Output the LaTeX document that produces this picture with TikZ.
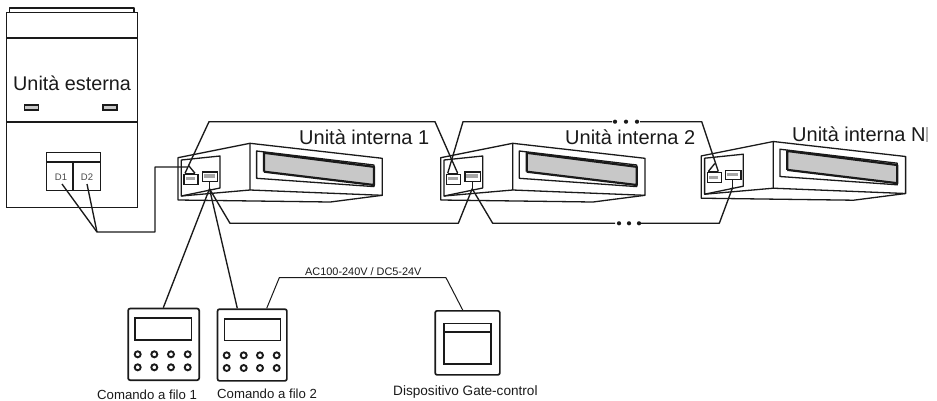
\documentclass[tikz,border=0pt]{standalone}
\usepackage{fontspec}
\usetikzlibrary{calc}
\setmainfont{Liberation Sans}
\definecolor{ink}{HTML}{1A1A1A}
\definecolor{win}{HTML}{C8C8C8}
\tikzset{
  wire/.style={draw=ink,line width=1.35pt,line join=round},
  thin part/.style={draw=ink,line width=1.3pt,line join=round},
  heavy part/.style={draw=ink,line width=2.2pt,line join=round},
  lbl/.style={inner sep=0pt,anchor=base west,text=ink},
  big/.style={lbl,font=\fontsize{19.8}{20}\selectfont},
  small/.style={lbl,font=\fontsize{13.2}{14}\selectfont},
  tiny/.style={lbl,font=\fontsize{10.9}{12}\selectfont},
  plate/.style={draw=ink,line width=1.7pt,rounded corners=2pt,inner sep=0pt,anchor=north west},
  term/.style={draw=ink,fill=white,line width=1.2pt,minimum width=14pt,minimum height=9.5pt,inner sep=0pt,anchor=north west},
  btn/.style={draw=ink,line width=1.9pt,circle,minimum size=6pt,inner sep=0pt},
  duct/.pic={
    \path[thin part] (-72,14.4) -- (0,0) -- (132.3,15) -- (132.3,52) -- (80.3,58.7) -- (-72,56.7) -- cycle;
    \draw[thin part] (0,0) -- (0,46.7) -- (132.3,52);
    \draw[thin part] (-68.7,52.7) -- (0,46.7);
    \draw[thin part] (-68.7,16.7) -- (-30,12.7) -- (-30,44.7) -- (-68.7,52.7) -- cycle;
    \draw[thin part] (6.6,7.7) -- (124,21.7) -- (124,43.3) -- (6.6,35) -- cycle;
    \fill[win] (14,9.5) -- (124,23.5) -- (124,41.7) -- (14,28.4) -- cycle;
    \draw[heavy part] (14,28.4) -- (14,9.5) -- (124,23.5) -- (124,41.7) -- (14,28.4);
    \node[term] (-ta) at (-66.7,30.7) {};
    \node[term,minimum width=15.5pt] (-tb) at (-48.4,28) {};
    \fill[gray!70] (-64.5,34) rectangle (-55,37);
    \fill[gray!70] (-46.5,31) rectangle (-35,34.5);
    \coordinate (-tl) at (-65,30);
    \coordinate (-tr) at (-55,30);
    \coordinate (-j) at (-40.5,45.5);
    \draw[thin part] (-tl) -- (-tr);
    \draw[thin part] (-40.5,37.7) -- (-j);
  }
}
\begin{document}
\begin{tikzpicture}[x=1pt,y=-1pt]
\useasboundingbox (0,0) rectangle (937,400);
% outdoor unit
\draw[thin part] (9.5,12) -- (9.5,8) -- (134,8) -- (134,12);
\node[draw=ink,line width=1.4pt,minimum width=130.5pt,minimum height=195pt,inner sep=0pt,anchor=north west] (odu) at (6,12) {};
\draw[thin part] (odu.west |- 0,38) -- (odu.east |- 0,38);
\draw[draw=ink,line width=2.3pt] (odu.west |- 0,122) -- (odu.east |- 0,122);
\node[big] (odulbl) at (13,90) {Unità esterna};
\node[draw=ink,fill=win,line width=1.2pt,minimum width=14pt,minimum height=5pt,inner sep=0pt] (l1) at (31.5,107.5) {};
\node[draw=ink,fill=win,line width=1.2pt,minimum width=14pt,minimum height=5pt,inner sep=0pt] (l2) at (110,107.5) {};
\node[draw=ink,line width=1.3pt,minimum width=54pt,minimum height=38pt,inner sep=0pt,anchor=north west] (tb) at (46,152) {};
\draw[thin part] (46,162) -- (100,162);
\draw[thin part] (73,162) -- (73,190);
\node[font=\fontsize{9.5}{10}\selectfont,text=ink!80,inner sep=0pt] (d1) at (61,177) {D1};
\node[font=\fontsize{9.5}{10}\selectfont,text=ink!80,inner sep=0pt] (d2) at (87,177) {D2};
% indoor units
\pic (u1) at (250,143.3) {duct};
\pic (u2) at (512.7,143.3) {duct};
\pic (uN) at (773.3,141.5) {duct};
\node[big,font=\fontsize{20}{20}\selectfont] (u1lbl) at (299,144) {Unità interna 1};
\node[big,font=\fontsize{20}{20}\selectfont] (u2lbl) at (565,144) {Unità interna 2};
\node[big,font=\fontsize{20}{20}\selectfont] (uNlbl) at (792,141.7) {Unità interna N};
\fill[gray!60] (926,127) rectangle (927.5,142);
% bus named points
\coordinate (e1) at (97,232);
\coordinate (e2) at (155,232);
\coordinate (e3) at (155,167);
\coordinate (e4) at (187.5,167);
\coordinate (t1) at (209,121.7);
\coordinate (t2) at (435,121.7);
\coordinate (t3) at (463,121.7);
\coordinate (t4) at (612,121.7);
\coordinate (t5) at (640,121.7);
\coordinate (t6) at (701.7,121.7);
\coordinate (b1) at (230,223.3);
\coordinate (b2) at (458.3,223.3);
\coordinate (b3) at (492.7,223.3);
\coordinate (b4) at (615,223.3);
\coordinate (b5) at (640,223.3);
\coordinate (b6) at (719.3,223.3);
\coordinate (d1w) at (62,184);
\coordinate (d2w) at (87,184);
\draw[wire] (d1w) -- (e1);
\draw[wire] (d2w) -- (e1) -- (e2) -- (e3) -- (e4);
\draw[wire] (u1-tl) -- (t1) -- (t2) -- (u2-tr);
\draw[wire] (u2-tl) -- (t3) -- (t4);
\draw[wire] (t5) -- (t6) -- (uN-tr);
\draw[wire] (u1-tr) -- ($(u1-tl)!0.15!(t1)$);
\draw[wire] (u1-j) -- (b1) -- (b2) -- (u2-j) -- (b3) -- (b4);
\draw[wire] (b5) -- (b6) -- (uN-j);
\draw[wire] (uN-tl) -- ++(6.5,-8);
\foreach \n/\x/\y in {p1/615/121.7,p2/626/121.7,p3/637/121.7,q1/619/223.3,q2/629/223.3,q3/639/223.3}
  \node[fill=ink,circle,inner sep=0pt,minimum size=4.2pt] (\n) at (\x,\y) {};
% controllers
\node[plate,minimum width=71pt,minimum height=71.6pt] (c1) at (127.3,307.7) {};
\node[draw=ink,line width=1.6pt,minimum width=56.4pt,minimum height=22pt,inner sep=0pt,anchor=north west] (s1) at (134.3,317.3) {};
\foreach \x in {137.7,154.3,171,187.7} \foreach \y in {354.3,367.3}
  \node[btn] at (\x,\y) {};
\node[plate,minimum width=69.3pt,minimum height=71.7pt] (c2) at (216.7,308.3) {};
\node[draw=ink,line width=1.3pt,minimum width=56pt,minimum height=21.7pt,inner sep=0pt,anchor=north west] (s2) at (224,318.3) {};
\foreach \x in {226.7,243.7,260,276.7} \foreach \y in {355.3,368}
  \node[btn] at (\x,\y) {};
\node[plate,minimum width=64.7pt,minimum height=64pt] (gate) at (434.3,310) {};
\node[draw=ink,line width=1.5pt,minimum width=46.7pt,minimum height=40.6pt,inner sep=0pt,anchor=north west] (gs) at (443.3,322.7) {};
\draw[draw=ink,line width=2pt] (gs.west |- 0,332) -- (gs.east |- 0,332);
\coordinate (c1in) at (163.3,307.7);
\coordinate (c2in) at (237.3,308.3);
\coordinate (c2out) at (266.7,308.3);
\coordinate (gin) at (462.7,310);
\coordinate (ac1) at (279.3,277.7);
\coordinate (ac2) at (446,277.7);
\draw[wire] (u1-j) -- (c1in);
\draw[wire] (u1-j) -- (c2in);
\draw[wire,line width=1pt] (c2out) -- (ac1) -- (ac2) -- (gin);
\node[tiny] (aclbl) at (305,275.7) {AC100-240V / DC5-24V};
\node[small] (c1lbl) at (97,399) {Comando a filo 1};
\node[small] (c2lbl) at (217,398) {Comando a filo 2};
\node[small,font=\fontsize{13.6}{14}\selectfont] (glbl) at (393,395) {Dispositivo Gate-control};
\end{tikzpicture}
\end{document}
